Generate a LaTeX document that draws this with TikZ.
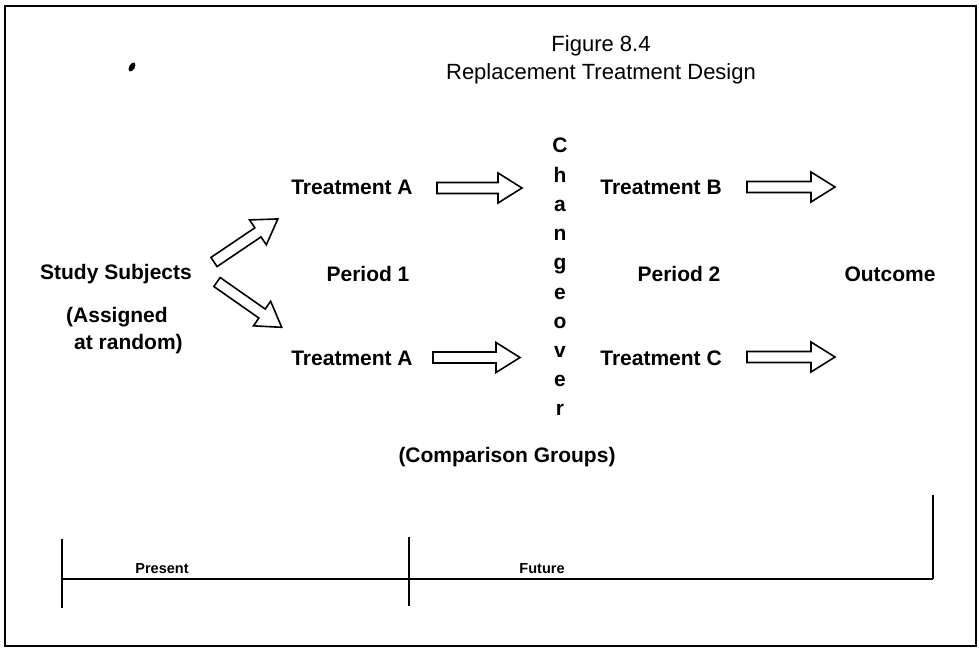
\documentclass[tikz,border=0pt]{standalone}
\usepackage{fontspec}
\setmainfont{Liberation Sans}
% outlined block arrow: name, tail x, tail y, angle, length
\newcommand\blockarrow[5]{%
  \begin{scope}[shift={(#2,#3)}, rotate=#4]
    \draw[hollow] (0,-5.5) -- ({#5-24},-5.5) -- ({#5-24},-15) -- (#5,0)
      -- ({#5-24},15) -- ({#5-24},5.5) -- (0,5.5) -- cycle;
    \coordinate (#1) at (#5,0);
  \end{scope}}
\begin{document}
\begin{tikzpicture}[x=1pt,y=-1pt,
  lbl/.style={font=\bfseries\fontsize{21}{24}\selectfont, inner sep=0pt, anchor=base},
  small/.style={font=\bfseries\fontsize{14.5}{16}\selectfont, inner sep=0pt, anchor=base},
  ttl/.style={font=\fontsize{22}{26}\selectfont, inner sep=0pt, anchor=base},
  hollow/.style={draw=black, line width=1.6pt, fill=white, line join=miter},
  rule/.style={line width=1.3pt},
]
\useasboundingbox (0,0) rectangle (979,652);
\fill[white] (0,0) rectangle (979,652);

% frame
\draw[line width=2pt] (5,6) rectangle (976,646);

% ink speck
\fill[rotate around={-30:(132,67)}] (132,67) ellipse (2.8 and 5);

% title
\node[ttl] (fig) at (601,52) {Figure 8.4};
\node[ttl] (title) at (601,80) {Replacement Treatment Design};

% left column
\node[lbl] (subj) at (116,279) {Study Subjects};
\node[lbl, anchor=base west] (assg) at (66,322) {(Assigned};
\node[lbl, anchor=base west] (rand) at (74,349) {at random)};

% period 1
\node[lbl] (ta1) at (352,195) {Treatment A};
\node[lbl] (p1) at (368,281) {Period 1};
\node[lbl] (ta2) at (352,365) {Treatment A};

% changeover
\foreach \ch [count=\i from 0] in {C,h,a,n,g,e,o,v,e,r}
  \node[lbl] (chg\i) at (560,{153+29.22*\i}) {\ch};

% period 2
\node[lbl] (tb) at (661,195) {Treatment B};
\node[lbl] (p2) at (679,281) {Period 2};
\node[lbl] (tc) at (661,365) {Treatment C};
\node[lbl] (out) at (890,281) {Outcome};

% block arrows
\blockarrow{up}{214}{262}{34}{77}
\blockarrow{down}{217}{282}{-35}{79}
\blockarrow{a1}{437}{188}{0}{85}
\blockarrow{a2}{433}{357.5}{0}{87}
\blockarrow{b1}{747}{187}{0}{88}
\blockarrow{c1}{747}{357}{0}{88}

% groups label
\node[lbl] (cmp) at (507,462) {(Comparison Groups)};

% time line
\coordinate (tl0) at (62,579);
\coordinate (tl1) at (933,579);
\coordinate (ptop) at (62,539);
\coordinate (pbot) at (62,608);
\coordinate (ftop) at (409,537);
\coordinate (fbot) at (409,606);
\coordinate (etop) at (933,495);
\draw[rule] (tl0) -- (tl1);
\draw[rule] (ptop) -- (pbot);
\draw[rule] (ftop) -- (fbot);
\draw[rule] (etop) -- (tl1);
\node[small] (pres) at (162,573) {Present};
\node[small] (fut) at (542,573) {Future};
\end{tikzpicture}
\end{document}
